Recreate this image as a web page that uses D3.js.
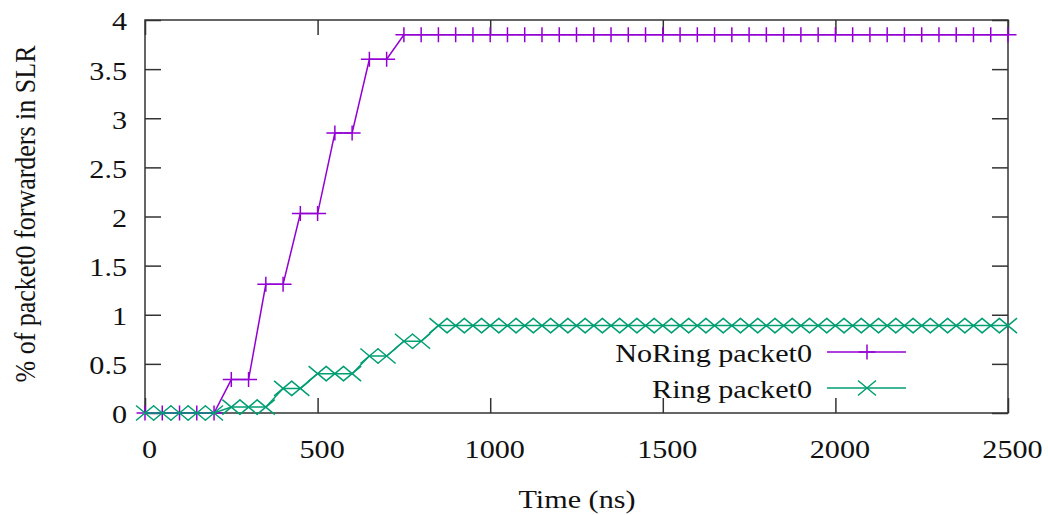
<!DOCTYPE html>
<html>
<head>
<meta charset="utf-8">
<script src="https://cdn.jsdelivr.net/npm/d3@7"></script>
<style>
    body { margin: 0; background: #fff; }
    svg text { font-family: "Liberation Serif", "Times New Roman", Times, "DejaVu Serif", "Noto Serif", serif; font-size: 26px; fill: #111; }
</style>
</head>
<body>
<div class="chartcontainer"></div>
<script>
// time in ns
const times = [0, 50, 100, 150, 200, 250, 300, 350, 400, 450, 500, 550, 600, 650, 700, 750, 800, 850, 900, 950,
    1000, 1050, 1100, 1150, 1200, 1250, 1300, 1350, 1400, 1450, 1500, 1550, 1600, 1650, 1700, 1750, 1800, 1850, 1900, 1950,
    2000, 2050, 2100, 2150, 2200, 2250, 2300, 2350, 2400, 2450, 2500]

const noRing = [0, 0, 0, 0, 0, 0.34, 0.34, 1.31, 1.31, 2.03, 2.03, 2.85, 2.85, 3.6, 3.6, 3.85, 3.85, 3.85, 3.85, 3.85,
    3.85, 3.85, 3.85, 3.85, 3.85, 3.85, 3.85, 3.85, 3.85, 3.85, 3.85, 3.85, 3.85, 3.85, 3.85, 3.85, 3.85, 3.85, 3.85, 3.85,
    3.85, 3.85, 3.85, 3.85, 3.85, 3.85, 3.85, 3.85, 3.85, 3.85, 3.85]

const ring = [0, 0, 0, 0, 0, 0.06, 0.06, 0.06, 0.25, 0.25, 0.4, 0.4, 0.4, 0.58, 0.58, 0.73, 0.73, 0.89, 0.89, 0.89,
    0.89, 0.89, 0.89, 0.89, 0.89, 0.89, 0.89, 0.89, 0.89, 0.89, 0.89, 0.89, 0.89, 0.89, 0.89, 0.89, 0.89, 0.89, 0.89, 0.89,
    0.89, 0.89, 0.89, 0.89, 0.89, 0.89, 0.89, 0.89, 0.89, 0.89, 0.89]

const xTicks = [0, 500, 1000, 1500, 2000, 2500]
const yTicks = [0, 0.5, 1, 1.5, 2, 2.5, 3, 3.5, 4]
const seriesNames = ['NoRing packet0', 'Ring packet0']

const w = 1048
const h = 515
const padL = 145, padR = 1008, padT = 20, padB = 413
const sx = 1.16  // the original picture is stretched sideways

const xScale = d3.scaleLinear().domain([0, 2500]).range([padL, padR])
const yScale = d3.scaleLinear().domain([0, 4]).range([padB, padT])

const svgArea = d3.select('.chartcontainer')
    .append('svg')
    .attr('width', w)
    .attr('height', h)

// axes, gnuplot style: ticks inside, mirrored
const xAxis = d3.axisBottom(xScale).tickValues(xTicks).tickSizeInner(-15).tickSizeOuter(0).tickPadding(26.5)
    .tickFormat(d3.format('d'))
const yAxis = d3.axisLeft(yScale).tickValues(yTicks).tickSizeInner(-16).tickSizeOuter(0).tickPadding(15.5)
    .tickFormat(d3.format('~g'))

svgArea.append('g')
    .attr('transform', 'translate(0,' + padB + ')')
    .call(xAxis)
    .attr('id', 'x-axis')
svgArea.append('g')
    .attr('transform', 'translate(' + padL + ',0)')
    .call(yAxis)
    .attr('id', 'y-axis')
svgArea.append('g')
    .attr('transform', 'translate(0,' + padT + ')')
    .call(d3.axisTop(xScale).tickValues(xTicks).tickSizeInner(-15).tickSizeOuter(0).tickFormat(''))
svgArea.append('g')
    .attr('transform', 'translate(' + padR + ',0)')
    .call(d3.axisRight(yScale).tickValues(yTicks).tickSizeInner(-16).tickSizeOuter(0).tickFormat(''))

svgArea.selectAll('.domain').remove()
svgArea.selectAll('g').attr('font-family', null).attr('font-size', null)
svgArea.selectAll('.tick line').attr('stroke', '#333').attr('stroke-width', 1.5)
svgArea.selectAll('.tick text').attr('fill', '#111')
svgArea.select('#x-axis').selectAll('.tick text').attr('transform', 'translate(4,0) scale(' + sx + ',1)')
svgArea.select('#y-axis').selectAll('.tick text').attr('dy', '0.38em').attr('transform', 'scale(' + sx + ',1)')

svgArea.append('rect')
    .attr('x', padL)
    .attr('y', padT)
    .attr('width', padR - padL)
    .attr('height', padB - padT)
    .attr('fill', 'none')
    .attr('stroke', '#333')
    .attr('stroke-width', 1.5)

// series
const plusPath = 'M-8.5,0H8.5M0,-7.5V7.5'
const crossPath = 'M-9,-7.5L9,7.5M-9,7.5L9,-7.5'
const series = [
    { name: seriesNames[0], values: noRing, color: '#9400d3', marker: plusPath },
    { name: seriesNames[1], values: ring, color: '#009e73', marker: crossPath }
]

const line = d3.line()
    .x((d) => xScale(d[0]))
    .y((d) => yScale(d[1]))

series.forEach((s, i) => {
    let pts = times.map((t, j) => [t, s.values[j]])
    svgArea.append('path')
        .datum(pts)
        .attr('d', line)
        .attr('fill', 'none')
        .attr('stroke', s.color)
        .attr('stroke-width', 1.5)
    svgArea.selectAll('.mk' + i)
        .data(pts)
        .enter()
        .append('path')
        .attr('class', 'mk' + i)
        .attr('d', s.marker)
        .attr('transform', (d) => 'translate(' + xScale(d[0]) + ',' + yScale(d[1]) + ')')
        .attr('fill', 'none')
        .attr('stroke', s.color)
        .attr('stroke-width', 1.5)

    // legend
    let ly = 362 + i * 36
    svgArea.append('text')
        .text(s.name)
        .attr('text-anchor', 'end')
        .attr('transform', 'translate(812,' + ly + ') scale(' + sx + ',1)')
    svgArea.append('line')
        .attr('x1', 827)
        .attr('x2', 906)
        .attr('y1', ly - 10)
        .attr('y2', ly - 10)
        .attr('stroke', s.color)
        .attr('stroke-width', 1.5)
    svgArea.append('path')
        .attr('d', s.marker)
        .attr('transform', 'translate(867,' + (ly - 10) + ')')
        .attr('fill', 'none')
        .attr('stroke', s.color)
        .attr('stroke-width', 1.5)
})

svgArea.append('text')
    .text('Time (ns)')
    .attr('text-anchor', 'middle')
    .attr('transform', 'translate(577,508) scale(' + sx + ',1)')

svgArea.append('text')
    .text('% of packet0 forwarders in SLR')
    .attr('text-anchor', 'middle')
    .attr('transform', 'translate(35,214) scale(' + sx + ',1) rotate(-90)')
</script>
</body>
</html>
